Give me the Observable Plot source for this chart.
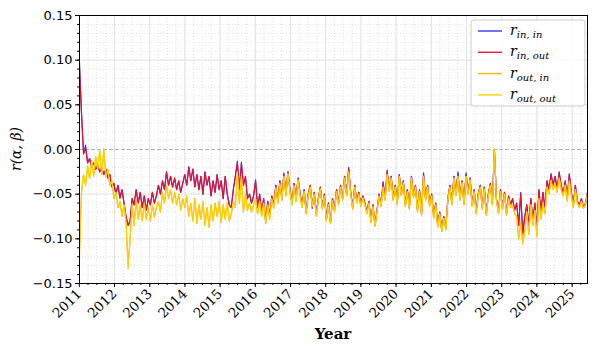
<!DOCTYPE html>
<html><head><meta charset="utf-8">
<script src="https://cdn.jsdelivr.net/npm/d3@7"></script>
<script src="https://cdn.jsdelivr.net/npm/@observablehq/plot@0.6"></script>
<style>body{margin:0;background:#fff} svg{display:block}</style>
</head><body><div id="chart"></div>
<script>
// Sampling: one reading every 3 weeks starting early January 2011
const START = new Date(2011, 0, 3);
const STEP_DAYS = 21;
// Series values, in thousandths (value = n / 1000)
const inInMilli = [98,40,-5,5,-15,-10,-20,-15,-22,-18,-25,-20,-28,-22,-32,-28,-42,-38,-50,-40,-53,-45,-60,-75,-85,-80,-55,-62,-45,-60,-48,-65,-52,-68,-55,-62,-48,-60,-52,-40,-50,-35,-45,-25,-40,-30,-42,-32,-45,-35,-48,-38,-28,-40,-19,-35,-22,-42,-28,-45,-30,-50,-25,-40,-30,-52,-35,-48,-28,-45,-35,-55,-30,-50,-62,-65,-45,-30,-13,-45,-14,-40,-30,-55,-50,-60,-52,-34,-65,-50,-70,-55,-80,-58,-75,-52,-62,-40,-58,-35,-55,-26,-50,-25,-45,-60,-38,-55,-32,-50,-62,-45,-70,-50,-40,-66,-48,-72,-55,-42,-65,-50,-78,-60,-82,-55,-68,-45,-60,-40,-55,-30,-50,-20,-48,-65,-40,-58,-48,-62,-52,-60,-70,-58,-80,-62,-85,-68,-50,-62,-36,-55,-23,-45,-30,-55,-40,-60,-28,-50,-35,-62,-45,-65,-30,-52,-40,-68,-45,-72,-26,-55,-40,-62,-50,-75,-60,-85,-70,-90,-75,-88,-55,-40,-60,-30,-50,-25,-55,-35,-60,-26,-48,-32,-62,-45,-70,-50,-40,-65,-42,-72,-50,-38,-60,-1,-55,-70,-45,-65,-48,-72,-52,-62,-55,-68,-60,-85,-48,-95,-75,-62,-85,-55,-80,-60,-90,-45,-70,-48,-65,-35,-45,-27,-40,-30,-45,-25,-40,-50,-35,-55,-27,-48,-62,-40,-58,-62,-55,-65,-62,-48];
const inOutMilli = [90,40,-5,2,-15,-10,-20,-15,-22,-18,-25,-20,-28,-22,-32,-28,-42,-38,-50,-40,-55,-45,-60,-75,-85,-80,-55,-62,-45,-60,-48,-65,-52,-68,-55,-62,-48,-60,-52,-40,-50,-35,-45,-25,-40,-30,-42,-32,-45,-35,-48,-38,-28,-40,-20,-35,-22,-42,-28,-45,-30,-50,-25,-40,-30,-52,-35,-48,-28,-45,-35,-55,-30,-50,-62,-65,-45,-30,-15,-45,-16,-40,-30,-55,-50,-60,-52,-36,-65,-50,-70,-55,-80,-58,-75,-52,-62,-40,-58,-35,-55,-28,-50,-25,-45,-60,-38,-55,-32,-50,-62,-45,-70,-50,-40,-62,-48,-72,-55,-42,-65,-50,-78,-60,-82,-55,-68,-45,-60,-40,-55,-30,-50,-22,-48,-65,-40,-58,-48,-62,-52,-60,-70,-58,-80,-62,-85,-68,-50,-62,-38,-55,-25,-45,-30,-55,-40,-60,-28,-50,-35,-62,-45,-65,-30,-52,-40,-68,-45,-72,-28,-55,-40,-62,-50,-75,-60,-85,-70,-90,-75,-88,-55,-40,-60,-30,-50,-27,-55,-35,-60,-28,-48,-32,-62,-45,-70,-50,-40,-65,-42,-72,-50,-38,-60,0,-55,-70,-45,-65,-48,-72,-52,-62,-55,-68,-60,-85,-50,-95,-75,-62,-85,-55,-80,-60,-90,-45,-70,-48,-65,-35,-45,-28,-40,-30,-45,-26,-40,-50,-35,-55,-28,-48,-62,-40,-58,-62,-55,-65,-60,-48];
const outInMilli = [-110,-46,-28,-40,-20,-32,-14,-30,-8,-22,-2,-28,-1,-30,-22,-40,-35,-55,-48,-65,-58,-75,-62,-82,-128,-100,-62,-85,-55,-78,-62,-80,-60,-78,-65,-80,-62,-76,-65,-58,-70,-48,-60,-40,-55,-45,-60,-48,-62,-50,-68,-55,-65,-52,-75,-60,-80,-55,-83,-62,-78,-58,-85,-65,-87,-62,-80,-60,-75,-58,-82,-62,-78,-60,-80,-72,-58,-65,-27,-60,-30,-70,-50,-68,-60,-70,-62,-55,-72,-58,-75,-60,-83,-62,-78,-55,-66,-43,-60,-38,-57,-30,-52,-27,-47,-62,-40,-58,-34,-52,-65,-47,-72,-52,-42,-64,-50,-75,-57,-44,-67,-52,-80,-62,-83,-57,-70,-47,-62,-42,-57,-32,-52,-25,-50,-67,-42,-60,-50,-64,-54,-62,-72,-60,-82,-64,-86,-70,-52,-64,-42,-57,-28,-47,-32,-57,-42,-62,-30,-52,-37,-64,-47,-67,-32,-54,-42,-70,-47,-74,-30,-57,-42,-64,-52,-77,-62,-87,-72,-92,-77,-90,-57,-42,-62,-32,-52,-30,-57,-37,-62,-30,-50,-34,-64,-47,-72,-52,-42,-67,-44,-74,-52,-40,-62,0,-57,-72,-47,-67,-50,-74,-55,-65,-62,-72,-75,-100,-82,-104,-92,-70,-95,-62,-85,-68,-96,-55,-78,-60,-72,-42,-50,-35,-45,-38,-48,-32,-45,-52,-40,-58,-35,-52,-65,-45,-60,-65,-58,-66,-62,-50];
const outOutMilli = [-122,-50,-28,-40,-18,-32,-12,-30,-8,-22,0,-28,1,-30,-22,-40,-35,-55,-48,-65,-58,-75,-62,-82,-134,-100,-62,-85,-55,-78,-62,-80,-60,-78,-65,-80,-62,-76,-65,-58,-70,-48,-60,-40,-55,-45,-60,-48,-62,-50,-68,-55,-65,-52,-75,-60,-80,-55,-83,-62,-78,-58,-85,-65,-87,-62,-80,-60,-75,-58,-82,-62,-78,-60,-80,-72,-58,-65,-25,-60,-30,-70,-50,-68,-60,-70,-62,-55,-72,-58,-75,-60,-83,-62,-78,-55,-66,-43,-60,-38,-57,-30,-52,-27,-47,-62,-40,-58,-34,-52,-65,-47,-72,-52,-42,-64,-50,-75,-57,-44,-67,-52,-80,-62,-83,-57,-70,-47,-62,-42,-57,-32,-52,-25,-50,-67,-42,-60,-50,-64,-54,-62,-72,-60,-82,-64,-86,-70,-52,-64,-42,-57,-28,-47,-32,-57,-42,-62,-30,-52,-37,-64,-47,-67,-32,-54,-42,-70,-47,-74,-30,-57,-42,-64,-52,-77,-62,-87,-72,-92,-77,-90,-57,-42,-62,-32,-52,-30,-57,-37,-62,-30,-50,-34,-64,-47,-72,-52,-42,-67,-44,-74,-52,-40,-62,1,-57,-72,-47,-67,-50,-74,-55,-65,-62,-72,-75,-100,-82,-106,-92,-70,-95,-62,-85,-68,-98,-55,-78,-60,-72,-42,-50,-35,-45,-38,-48,-32,-45,-52,-40,-58,-35,-52,-65,-45,-60,-65,-58,-66,-62,-50];

const seriesKeys = ["in_in", "in_out", "out_in", "out_out"];
const seriesSub = ["in, in", "in, out", "out, in", "out, out"];
const seriesColors = ["#3030f0", "#e8102c", "#ffad00", "#ffd000"];
const yMajor = [-0.15, -0.10, -0.05, 0.00, 0.05, 0.10, 0.15];
const yMinor = d3.range(-15, 16).map(v => v / 100);
const tickYears = d3.range(2011, 2026);

const seriesArrays = [inInMilli, inOutMilli, outInMilli, outOutMilli];
const dates = inOutMilli.map((_, i) => d3.timeDay.offset(START, STEP_DAYS * i));
const rows = [];
seriesArrays.forEach((arr, k) => arr.forEach((v, i) => rows.push({date: dates[i], value: v / 1000, series: seriesKeys[k]})));

const yearDates = tickYears.map(y => new Date(y, 0, 1));
const quarterDates = d3.timeMonth.every(3).range(dates[0], dates[dates.length - 1]);

const chart = Plot.plot({
  width: 595, height: 352,
  marginLeft: 79, marginRight: 8, marginTop: 15, marginBottom: 69,
  x: {type: "time", domain: [dates[0], dates[dates.length - 1]]},
  y: {domain: [-0.15, 0.15]},
  color: {domain: seriesKeys, range: seriesColors},
  style: {background: "white", fontFamily: "DejaVu Sans", overflow: "visible"},
  marks: [
    Plot.ruleY(yMinor, {stroke: "#cfcfcf", strokeDasharray: "1,2", strokeWidth: 0.6}),
    Plot.ruleX(quarterDates, {stroke: "#cfcfcf", strokeDasharray: "1,2", strokeWidth: 0.6}),
    Plot.ruleY(yMajor.filter(v => v !== 0), {stroke: "#e2e2e2", strokeWidth: 1}),
    Plot.ruleX(yearDates.slice(1), {stroke: "#e2e2e2", strokeWidth: 1}),
    Plot.ruleY([0], {stroke: "#a8a8a8", strokeDasharray: "4,2", strokeWidth: 0.9}),
    Plot.line(rows, {x: "date", y: "value", z: "series", stroke: "series", strokeWidth: 1.15}),
    Plot.frame({stroke: "#000", strokeWidth: 1}),
    Plot.axisY(yMinor, {tickSize: 2, tickFormat: () => "", label: null}),
    Plot.axisY(yMajor, {tickSize: 4, tickPadding: 3, tickFormat: d3.format(".2f"), fontSize: 13, label: null}),
    Plot.axisX(quarterDates, {tickSize: 2, tickFormat: () => "", label: null}),
    Plot.axisX(yearDates, {tickSize: 4, tickPadding: 4, tickRotate: -45, tickFormat: d => String(d.getFullYear()), fontSize: 13.5, fontFamily: "DejaVu Serif", label: null})
  ]
});

const svg = d3.select(chart);
// axis titles
svg.append("text").attr("x", 333).attr("y", 339).attr("text-anchor", "middle")
  .style("font-family", "DejaVu Serif").style("font-weight", "bold").style("font-size", "15px").attr("fill", "#000").text("Year");
svg.append("text").attr("transform", "translate(21,149) rotate(-90)").attr("text-anchor", "middle")
  .style("font-family", "DejaVu Serif").style("font-style", "italic").style("font-size", "14px").attr("fill", "#000").text("r(α, β)");

// legend
const lg = svg.append("g").attr("text-anchor", "start");
lg.append("rect").attr("x", 471).attr("y", 20).attr("width", 114).attr("height", 86).attr("rx", 3)
  .attr("fill", "white").attr("fill-opacity", 0.85).attr("stroke", "#cccccc");
seriesKeys.forEach((k, i) => {
  const y = 31 + i * 21.3;
  lg.append("line").attr("x1", 478).attr("x2", 502).attr("y1", y).attr("y2", y)
    .attr("stroke", seriesColors[i]).attr("stroke-width", 1.5).attr("stroke-opacity", 0.9);
  const t = lg.append("text").attr("x", 510).attr("y", y + 4).attr("text-anchor", "start")
    .style("font-family", "DejaVu Serif").style("font-style", "italic").attr("fill", "#000");
  t.append("tspan").style("font-size", "14px").text("r");
  t.append("tspan").attr("dy", 3).style("font-size", "10px").text(seriesSub[i]);
});

document.getElementById("chart").appendChild(chart);
</script>
</body></html>
